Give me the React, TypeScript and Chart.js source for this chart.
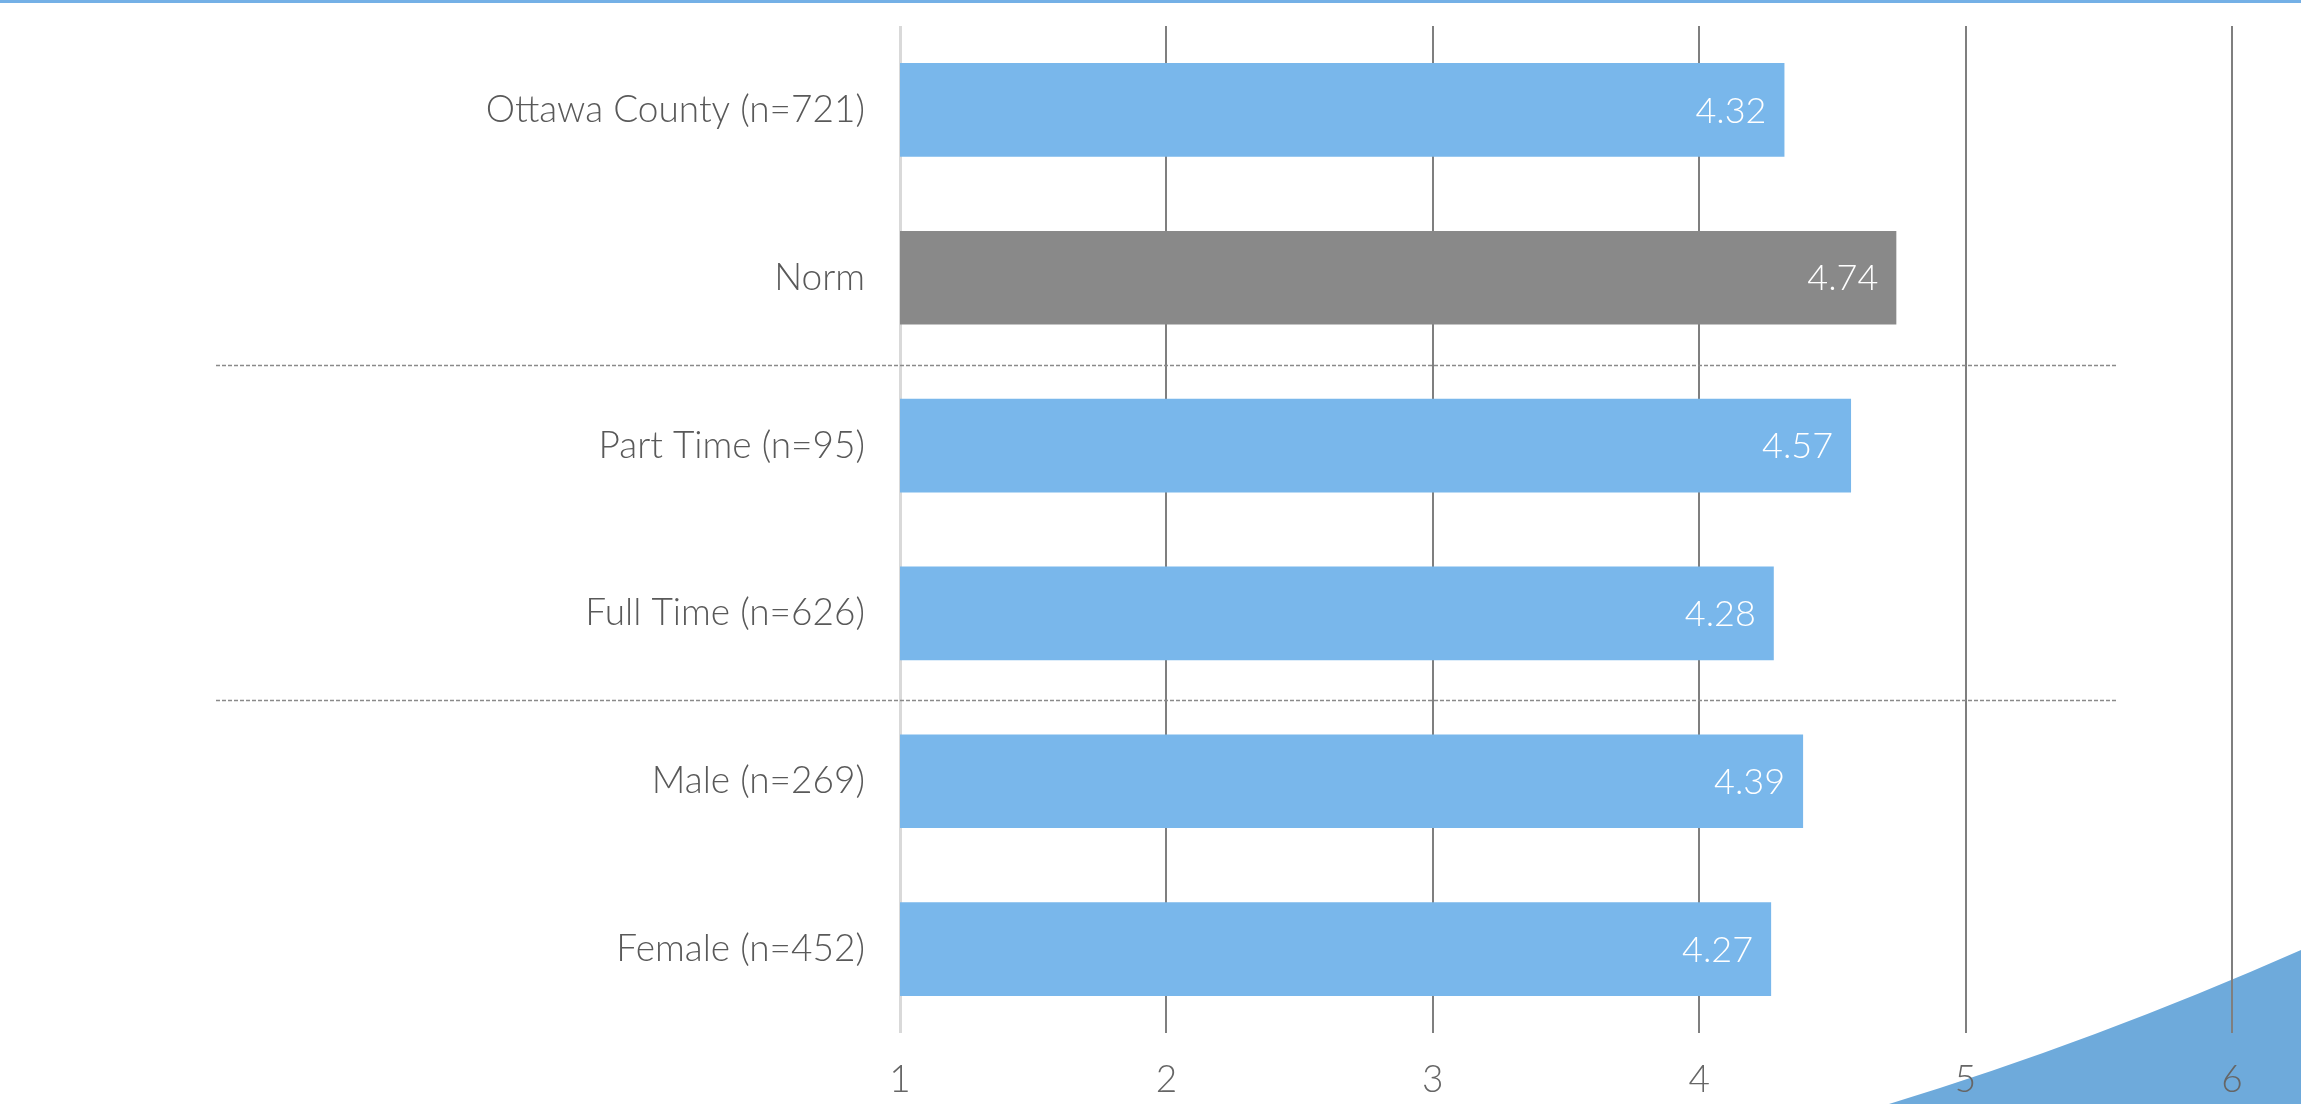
import React, { useEffect, useRef } from "react";
import { Chart, registerables } from "chart.js";

Chart.register(...registerables);

const categories = [
  "Ottawa County (n=721)",
  "Norm",
  "Part Time (n=95)",
  "Full Time (n=626)",
  "Male (n=269)",
  "Female (n=452)",
];
const values = [4.32, 4.74, 4.57, 4.28, 4.39, 4.27];
const barColors = ["#79b7eb", "#898989", "#79b7eb", "#79b7eb", "#79b7eb", "#79b7eb"];
const xTicks = [1, 2, 3, 4, 5, 6];
const separatorsAfter = [1, 3]; // dashed line after these category indices

const FONT = "Lato, 'Open Sans', sans-serif";

const decorPlugin = {
  id: "decor",
  beforeDraw(chart: any) {
    const ctx = chart.ctx;
    const w = chart.width;
    const h = chart.height;
    ctx.save();
    // top line
    ctx.fillStyle = "#74b0e6";
    ctx.fillRect(0, 0, w, 3);
    // bottom-right swoosh
    ctx.fillStyle = "#6eaadb";
    ctx.beginPath();
    ctx.moveTo(w - 412, h);
    ctx.quadraticCurveTo(w - 206, h - 63, w, h - 154);
    ctx.lineTo(w, h);
    ctx.closePath();
    ctx.fill();
    ctx.restore();
  },
  afterDatasetsDraw(chart: any) {
    const ctx = chart.ctx;
    const yScale = chart.scales.y;
    ctx.save();
    // dashed separators
    ctx.strokeStyle = "#8a8a8a";
    ctx.lineWidth = 1.5;
    ctx.setLineDash([4, 2]);
    separatorsAfter.forEach((i) => {
      const y = Math.round(yScale.getPixelForValue(i + 0.5)) + 3.5;
      ctx.beginPath();
      ctx.moveTo(216, y);
      ctx.lineTo(2117, y);
      ctx.stroke();
    });
    ctx.setLineDash([]);
    // value labels
    const meta = chart.getDatasetMeta(0);
    ctx.fillStyle = "#ffffff";
    ctx.font = `300 36px ${FONT}`;
    ctx.textAlign = "right";
    ctx.textBaseline = "middle";
    meta.data.forEach((bar: any, i: number) => {
      ctx.fillText(values[i].toFixed(2), bar.x - 18, bar.y + 1);
    });
    ctx.restore();
  },
};

export default function App() {
  const ref = useRef<HTMLCanvasElement | null>(null);
  useEffect(() => {
    document.body.style.margin = "0";
    const canvas = ref.current;
    if (!canvas) return;
    const chart = new Chart(canvas, {
      type: "bar",
      data: {
        labels: categories,
        datasets: [
          {
            data: values,
            backgroundColor: barColors,
            borderWidth: 0,
            barPercentage: 0.558,
            categoryPercentage: 1,
          },
        ],
      },
      options: {
        indexAxis: "y",
        animation: false,
        responsive: false,
        maintainAspectRatio: false,
        layout: { padding: { top: 26, right: 69, left: 0, bottom: 0 } },
        plugins: { legend: { display: false }, tooltip: { enabled: false } },
        scales: {
          x: {
            min: 1,
            max: 6,
            afterBuildTicks(scale: any) {
              scale.ticks = xTicks.map((v) => ({ value: v }));
            },
            afterFit(scale: any) {
              scale.height = 71;
              scale.paddingLeft = 0;
              scale.paddingRight = 0;
            },
            grid: {
              drawTicks: false,
              color: (c: any) => (c.index === 0 ? "#d9d9d9" : "#7f7f7f"),
              lineWidth: (c: any) => (c.index === 0 ? 3 : 2),
            },
            border: { display: false },
            ticks: {
              padding: 25,
              color: "#666666",
              font: { family: FONT, size: 37, weight: "300" },
            },
          },
          y: {
            afterFit(scale: any) {
              scale.width = 900;
              scale.paddingTop = 0;
              scale.paddingBottom = 0;
            },
            grid: { display: false, drawTicks: false },
            border: { display: false },
            ticks: {
              padding: 35,
              color: "#595959",
              font: { family: FONT, size: 37, weight: "300" },
            },
          },
        },
      },
      plugins: [decorPlugin],
    });
    return () => chart.destroy();
  }, []);
  return (
    <div style={{ width: 2301, height: 1104, position: "relative" }}>
      <canvas ref={ref} width={2301} height={1104} style={{ width: 2301, height: 1104, display: "block" }} />
    </div>
  );
}
